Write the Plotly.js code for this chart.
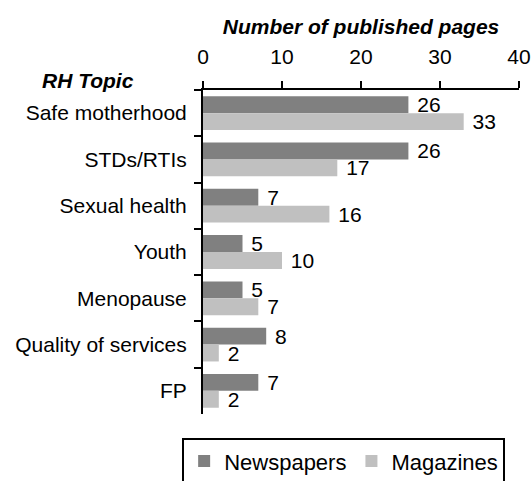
<!DOCTYPE html>
<html>
<head>
<meta charset="utf-8">
<script src="https://cdn.plot.ly/plotly-3.0.1.min.js"></script>
<style>html,body{margin:0;padding:0;background:#fff;}#chart{width:531px;height:481px;}</style>
</head>
<body>
<div id="chart"></div>
<script>
const topics = ["Safe motherhood", "STDs/RTIs", "Sexual health", "Youth", "Menopause", "Quality of services", "FP"];
const newspapers = [26, 26, 7, 5, 5, 8, 7];
const magazines = [33, 17, 16, 10, 7, 2, 2];
const xTicks = [0, 10, 20, 30, 40];

const FONT = "Liberation Sans, Arial, sans-serif";

const traces = [
  {
    type: "bar", orientation: "h", name: "Newspapers",
    y: topics, x: newspapers,
    text: newspapers.map(v => " " + v), textposition: "outside", constraintext: "none",
    textfont: {family: FONT, size: 21, color: "#000"},
    marker: {color: "#808080"}, cliponaxis: false
  },
  {
    type: "bar", orientation: "h", name: "Magazines",
    y: topics, x: magazines,
    text: magazines.map(v => " " + v), textposition: "outside", constraintext: "none",
    textfont: {family: FONT, size: 21, color: "#000"},
    marker: {color: "#c0c0c0"}, cliponaxis: false
  }
];

const layout = {
  width: 531, height: 481,
  margin: {l: 203, r: 12, t: 90, b: 67, autoexpand: false},
  paper_bgcolor: "#fff", plot_bgcolor: "#fff",
  font: {family: FONT, size: 21, color: "#000"},
  barmode: "group", bargap: 0.27, bargroupgap: 0,
  showlegend: true,
  legend: {
    orientation: "h", x: -0.066, xanchor: "left", y: -0.075, yanchor: "top",
    bordercolor: "#000", borderwidth: 2, font: {family: FONT, size: 22, color: "#000"},
    traceorder: "normal", itemwidth: 30
  },
  xaxis: {
    side: "top", range: [0, 40], tickvals: xTicks, ticktext: xTicks.map(String),
    ticks: "outside", ticklen: 7, tickwidth: 2, tickcolor: "#000",
    showline: true, linewidth: 2, linecolor: "#000",
    showgrid: false, zeroline: false, automargin: false,
    ticklabelstandoff: 9,
    tickfont: {family: FONT, size: 21, color: "#000"},
    title: {text: "<b><i>Number of published pages</i></b>", standoff: 4,
            font: {family: FONT, size: 21, color: "#000"}}
  },
  yaxis: {
    type: "category", autorange: "reversed",
    ticks: "outside", tickson: "boundaries", ticklen: 7, tickwidth: 2, tickcolor: "#000",
    showline: true, linewidth: 2, linecolor: "#000",
    showgrid: false, zeroline: false, automargin: false,
    ticklabelstandoff: 10,
    tickfont: {family: FONT, size: 21, color: "#000"}
  },
  annotations: [{
    text: "<b><i>RH Topic</i></b>", xref: "paper", yref: "paper",
    x: -0.364, y: 1.028, xanchor: "center", yanchor: "middle", showarrow: false,
    font: {family: FONT, size: 21, color: "#000"}
  }]
};

Plotly.newPlot("chart", traces, layout, {displayModeBar: false, staticPlot: true});
</script>
</body>
</html>
